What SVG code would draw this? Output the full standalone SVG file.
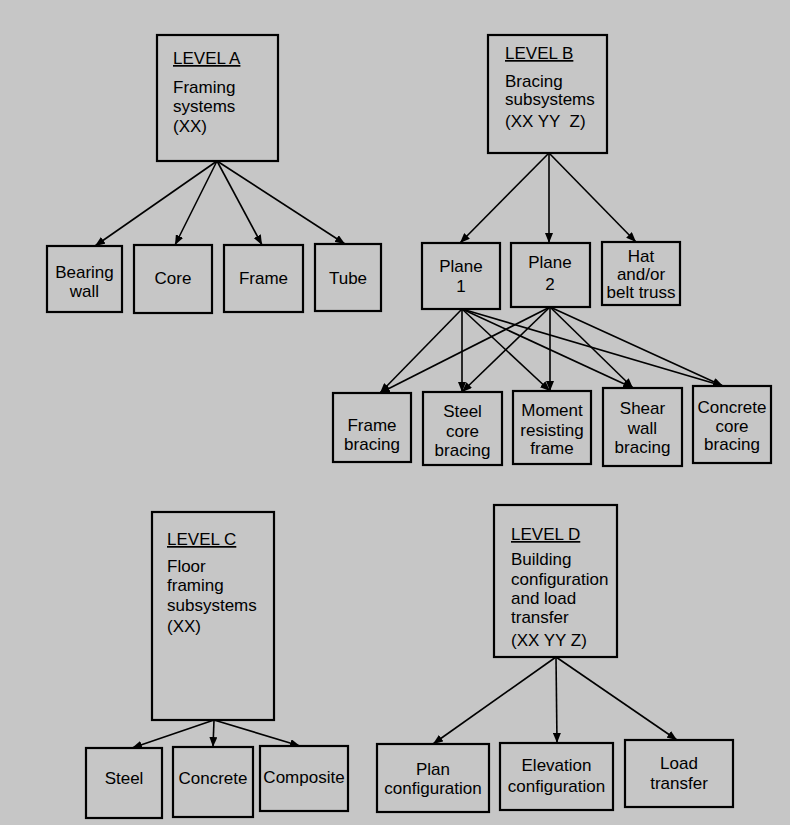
<svg xmlns="http://www.w3.org/2000/svg" width="790" height="825" viewBox="0 0 790 825">
<defs>
<marker id="ah" viewBox="0 0 10 8" refX="10" refY="4" markerWidth="10" markerHeight="8" markerUnits="userSpaceOnUse" orient="auto">
<path d="M0,0 L10,4 L0,8 z" fill="#000"/>
</marker>
</defs>
<style>
.bx{fill:none;stroke:#000;stroke-width:2.2}
.t{font-family:"Liberation Sans",Arial,sans-serif;font-size:17px;fill:#000}
.c{text-anchor:middle}
.u{text-decoration:underline}
.cn line{stroke:#000;stroke-width:1.6;marker-end:url(#ah)}
</style>
<rect x="0" y="0" width="790" height="825" fill="#c6c6c6"/>

<g id="levelA"><rect class="bx" x="157" y="35" width="121" height="126"/>
<text class="t u" x="173" y="64">LEVEL A</text>
<text class="t" x="173" y="93">Framing</text>
<text class="t" x="173" y="112">systems</text>
<text class="t" x="173" y="132">(XX)</text></g>

<g id="bearingWall"><rect class="bx" x="47" y="246" width="75" height="66"/>
<text class="t c" x="84.5" y="278">Bearing</text><text class="t c" x="84.5" y="297">wall</text></g>
<g id="core"><rect class="bx" x="134" y="245" width="78" height="68"/>
<text class="t c" x="173" y="284">Core</text></g>
<g id="frame"><rect class="bx" x="224" y="245" width="79" height="67"/>
<text class="t c" x="263.5" y="284">Frame</text></g>
<g id="tube"><rect class="bx" x="315" y="244" width="66" height="67"/>
<text class="t c" x="348" y="284">Tube</text></g>

<g id="levelB"><rect class="bx" x="488" y="35" width="119" height="118"/>
<text class="t u" x="505" y="59">LEVEL B</text>
<text class="t" x="505" y="87">Bracing</text>
<text class="t" x="505" y="105">subsystems</text>
<text class="t" x="505" y="127" xml:space="preserve">(XX YY  Z)</text></g>

<g id="plane1"><rect class="bx" x="422" y="243" width="78" height="66"/>
<text class="t c" x="461" y="272">Plane</text><text class="t c" x="461" y="292">1</text></g>
<g id="plane2"><rect class="bx" x="511" y="243" width="79" height="64"/>
<text class="t c" x="550" y="268">Plane</text><text class="t c" x="550" y="290">2</text></g>
<g id="hatBelt"><rect class="bx" x="602" y="242" width="78" height="63"/>
<text class="t c" x="641" y="262">Hat</text><text class="t c" x="641" y="280">and/or</text><text class="t c" x="641" y="298">belt truss</text></g>

<g id="frameBracing"><rect class="bx" x="333" y="393" width="78" height="69"/>
<text class="t c" x="372" y="431">Frame</text><text class="t c" x="372" y="450">bracing</text></g>
<g id="steelCore"><rect class="bx" x="423" y="392" width="79" height="73"/>
<text class="t c" x="462.5" y="417">Steel</text><text class="t c" x="462.5" y="437">core</text><text class="t c" x="462.5" y="456">bracing</text></g>
<g id="momentFrame"><rect class="bx" x="513" y="391" width="78" height="73"/>
<text class="t c" x="552" y="416">Moment</text><text class="t c" x="552" y="436">resisting</text><text class="t c" x="552" y="454">frame</text></g>
<g id="shearWall"><rect class="bx" x="603" y="388" width="79" height="78"/>
<text class="t c" x="642.5" y="414">Shear</text><text class="t c" x="642.5" y="434">wall</text><text class="t c" x="642.5" y="453">bracing</text></g>
<g id="concreteCore"><rect class="bx" x="693" y="386" width="78" height="77"/>
<text class="t c" x="732" y="413">Concrete</text><text class="t c" x="732" y="432">core</text><text class="t c" x="732" y="450">bracing</text></g>

<g id="levelC"><rect class="bx" x="152" y="512" width="122" height="208"/>
<text class="t u" x="167" y="545">LEVEL C</text>
<text class="t" x="167" y="572">Floor</text>
<text class="t" x="167" y="591">framing</text>
<text class="t" x="167" y="611">subsystems</text>
<text class="t" x="167" y="632">(XX)</text></g>

<g id="steel"><rect class="bx" x="86" y="748" width="76" height="70"/>
<text class="t c" x="124" y="784">Steel</text></g>
<g id="concrete"><rect class="bx" x="173" y="747" width="80" height="70"/>
<text class="t c" x="213" y="784">Concrete</text></g>
<g id="composite"><rect class="bx" x="260" y="746" width="88" height="65"/>
<text class="t c" x="304" y="783">Composite</text></g>

<g id="levelD"><rect class="bx" x="494" y="505" width="123" height="152"/>
<text class="t u" x="511" y="540">LEVEL D</text>
<text class="t" x="511" y="565">Building</text>
<text class="t" x="511" y="585">configuration</text>
<text class="t" x="511" y="604">and load</text>
<text class="t" x="511" y="623">transfer</text>
<text class="t" x="511" y="646">(XX YY Z)</text></g>

<g id="planConfig"><rect class="bx" x="377" y="744" width="112" height="68"/>
<text class="t c" x="433" y="775">Plan</text><text class="t c" x="433" y="794">configuration</text></g>
<g id="elevConfig"><rect class="bx" x="500" y="743" width="113" height="67"/>
<text class="t c" x="556.5" y="771">Elevation</text><text class="t c" x="556.5" y="792">configuration</text></g>
<g id="loadTransfer"><rect class="bx" x="625" y="740" width="108" height="67"/>
<text class="t c" x="679" y="769">Load</text><text class="t c" x="679" y="789">transfer</text></g>

<g id="connectors" class="cn">
<line x1="217" y1="161" x2="95" y2="246"/>
<line x1="217" y1="161" x2="175" y2="245"/>
<line x1="217" y1="161" x2="262" y2="245"/>
<line x1="217" y1="161" x2="345" y2="244"/>
<line x1="549" y1="153" x2="460" y2="243"/>
<line x1="549" y1="153" x2="549" y2="243"/>
<line x1="549" y1="153" x2="636" y2="242"/>
<line x1="462" y1="309" x2="380" y2="393"/>
<line x1="462" y1="309" x2="462" y2="392"/>
<line x1="462" y1="309" x2="550" y2="391"/>
<line x1="462" y1="309" x2="633" y2="388"/>
<line x1="462" y1="309" x2="723" y2="386"/>
<line x1="550" y1="307" x2="380" y2="393"/>
<line x1="550" y1="307" x2="462" y2="392"/>
<line x1="550" y1="307" x2="550" y2="391"/>
<line x1="550" y1="307" x2="633" y2="388"/>
<line x1="550" y1="307" x2="723" y2="386"/>
<line x1="214" y1="720" x2="132" y2="748"/>
<line x1="214" y1="720" x2="213" y2="747"/>
<line x1="214" y1="720" x2="300" y2="746"/>
<line x1="556" y1="657" x2="433" y2="744"/>
<line x1="556" y1="657" x2="557" y2="743"/>
<line x1="556" y1="657" x2="677" y2="740"/>
</g>
</svg>
